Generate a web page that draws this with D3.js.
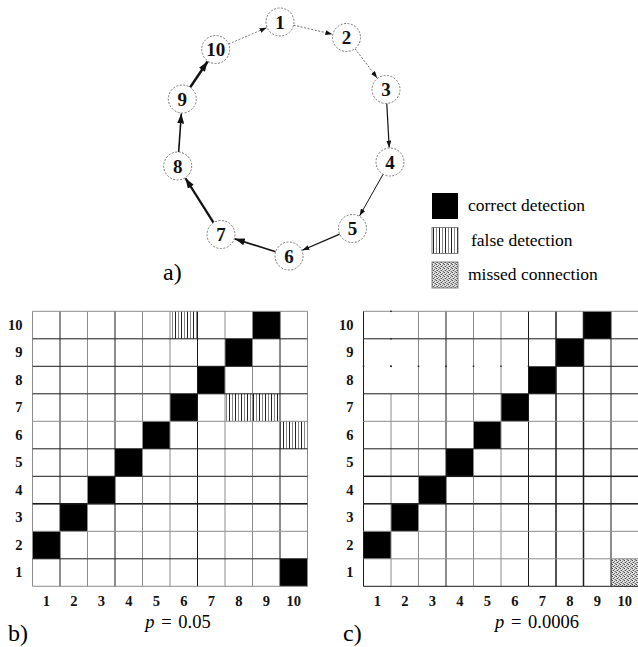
<!DOCTYPE html>
<html>
<head>
<meta charset="utf-8">
<script src="https://cdn.jsdelivr.net/npm/d3@7"></script>
<style>
  html, body { margin: 0; padding: 0; background: #fff; }
  svg { display: block; }
</style>
</head>
<body>
<svg id="chart" width="638" height="647"></svg>
<script>
// ---------- DATA ----------
const nodeIds = [1, 2, 3, 4, 5, 6, 7, 8, 9, 10];
// ring layout of the network (panel a)
const nodeLayoutX = [280, 346.5, 386, 390, 352.5, 289, 221, 177.7, 182.3, 215.7];
const nodeLayoutY = [22, 37.5, 89.5, 162, 228.5, 256, 234.5, 166, 99, 49.5];
// directed connections and their strength
const edgeFrom   = [10, 1, 2, 3, 4, 5, 6, 7, 8, 9];
const edgeTo     = [1, 2, 3, 4, 5, 6, 7, 8, 9, 10];
const edgeWeight = [0.7, 0.8, 0.8, 1.2, 1.0, 1.3, 1.6, 2.3, 1.6, 2.6];
const edgeDotted = [true, true, true, false, false, false, false, false, false, false];

const tickLabels = ["1", "2", "3", "4", "5", "6", "7", "8", "9", "10"];

// detection matrices: [column (source), row (target)]
const correctB = [[1, 2], [2, 3], [3, 4], [4, 5], [5, 6], [6, 7], [7, 8], [8, 9], [9, 10], [10, 1]];
const falseB   = [[6, 10], [8, 7], [9, 7], [10, 6]];
const missedB  = [];
const correctC = [[1, 2], [2, 3], [3, 4], [4, 5], [5, 6], [6, 7], [7, 8], [8, 9], [9, 10]];
const falseC   = [];
const missedC  = [[10, 1]];

const legendLabels = ["correct detection", "false detection", "missed connection"];

// ---------- DRAWING ----------
const FONT = "'Liberation Serif', 'Times New Roman', Times, serif";
const svg = d3.select("#chart").attr("font-family", FONT);
const defs = svg.append("defs");

// hatch pattern (false detection)
const hatch = defs.append("pattern").attr("id", "hatch")
  .attr("patternUnits", "userSpaceOnUse").attr("width", 6).attr("height", 6);
hatch.append("rect").attr("width", 6).attr("height", 6).attr("fill", "#fff");
hatch.append("rect").attr("x", 1).attr("width", 1).attr("height", 6).attr("fill", "#222");
hatch.append("rect").attr("x", 4).attr("width", 1).attr("height", 6).attr("fill", "#888");

// stipple pattern (missed connection)
const stip = defs.append("pattern").attr("id", "stipple")
  .attr("patternUnits", "userSpaceOnUse").attr("width", 4).attr("height", 4);
stip.append("rect").attr("width", 4).attr("height", 4).attr("fill", "#e4e4e4");
[[0,0,"#444"],[2,1,"#666"],[1,2,"#555"],[3,3,"#777"],[2,3,"#aaa"],[0,2,"#999"],[3,0,"#aaa"]].forEach(([px,py,c]) =>
  stip.append("rect").attr("x", px).attr("y", py).attr("width", 1).attr("height", 1).attr("fill", c));

// arrow markers
function addMarker(id, w, h) {
  defs.append("marker").attr("id", id)
    .attr("markerUnits", "userSpaceOnUse")
    .attr("viewBox", `0 0 ${w} ${h}`)
    .attr("markerWidth", w).attr("markerHeight", h)
    .attr("refX", w).attr("refY", h / 2)
    .attr("orient", "auto")
    .append("path").attr("d", `M0,0 L${w},${h/2} L0,${h} Z`).attr("fill", "#111");
}
addMarker("arrowS", 7, 5);
addMarker("arrowL", 10, 7);

// ----- panel a: network -----
const R = 14;
const nodePos = new Map(nodeIds.map((id, i) => [id, [nodeLayoutX[i], nodeLayoutY[i]]]));
const widthScale = d3.scaleLinear().domain([0.7, 2.6]).range([0.7, 2.6]);
const gNet = svg.append("g");

edgeFrom.forEach((s, i) => {
  const [x1, y1] = nodePos.get(s), [x2, y2] = nodePos.get(edgeTo[i]);
  const dx = x2 - x1, dy = y2 - y1, L = Math.hypot(dx, dy);
  const ux = dx / L, uy = dy / L;
  gNet.append("line")
    .attr("x1", x1 + ux * R).attr("y1", y1 + uy * R)
    .attr("x2", x2 - ux * (R + 0.5)).attr("y2", y2 - uy * (R + 0.5))
    .attr("stroke", edgeDotted[i] ? "#444" : "#111")
    .attr("stroke-width", widthScale(edgeWeight[i]))
    .attr("stroke-dasharray", edgeDotted[i] ? "2,1.6" : null)
    .attr("marker-end", edgeWeight[i] >= 1.5 ? "url(#arrowL)" : "url(#arrowS)");
});

const nodeG = gNet.selectAll("g.node").data(nodeIds).join("g")
  .attr("class", "node")
  .attr("transform", d => `translate(${nodePos.get(d)[0]},${nodePos.get(d)[1]})`);
nodeG.append("circle").attr("r", R).attr("fill", "#fff")
  .attr("stroke", "#555").attr("stroke-width", 0.8).attr("stroke-dasharray", "2,1.5");
nodeG.append("text").text(d => d)
  .attr("text-anchor", "middle").attr("dy", "0.35em")
  .attr("font-family", FONT)
  .attr("font-size", 19).attr("font-weight", "bold").attr("fill", "#111");

svg.append("text").attr("x", 163).attr("y", 280).attr("font-family", FONT)
  .attr("font-size", 24).text("a)");

// ----- legend -----
const legendFills = ["#000", "url(#hatch)", "url(#stipple)"];
const legendY = d3.scalePoint().domain(legendLabels).range([193, 262]);
const lg = svg.append("g");
legendLabels.forEach((lab, i) => {
  lg.append("rect").attr("x", 432).attr("y", legendY(lab)).attr("width", 26).attr("height", 26)
    .attr("fill", legendFills[i]).attr("stroke", i === 0 ? "none" : "#666").attr("stroke-width", 0.8);
  lg.append("text").attr("x", i === 1 ? 471 : 468).attr("y", legendY(lab) + 18)
    .attr("font-family", FONT).attr("font-size", 17.5).text(lab);
});

// ----- matrices -----
const GRAY = "#8c8c8c", BLACK = "#1a1a1a";
function drawMatrix(x0, correct, falses, missed, vStyles, hStyles, skipV, skipH, pText, panelLabel, panelX, pX) {
  const top = 311.3, bottom = 586.3, size = 275;
  const x = d3.scaleBand().domain(tickLabels).range([x0, x0 + size]);
  const y = d3.scaleBand().domain(tickLabels).range([bottom, top]);
  const g = svg.append("g");
  const bw = x.bandwidth(), bh = y.bandwidth();

  const cells = [
    ...correct.map(d => ({ c: d[0], r: d[1], f: "#000" })),
    ...falses.map(d => ({ c: d[0], r: d[1], f: "url(#hatch)" })),
    ...missed.map(d => ({ c: d[0], r: d[1], f: "url(#stipple)" }))
  ];
  g.selectAll("rect.cell").data(cells).join("rect").attr("class", "cell")
    .attr("x", d => x(String(d.c))).attr("y", d => y(String(d.r)))
    .attr("width", bw).attr("height", bh).attr("fill", d => d.f);

  const rowsTopDown = tickLabels.slice().reverse();
  for (let i = 0; i <= 10; i++) {
    const xx = x0 + i * bw;
    const st = vStyles[i];
    rowsTopDown.forEach(r => {
      if (skipV.some(s => s[0] === i && s[1] === +r)) return;
      g.append("line").attr("x1", xx).attr("x2", xx)
        .attr("y1", y(r)).attr("y2", y(r) + bh)
        .attr("stroke", st[0]).attr("stroke-width", st[1]);
    });
  }
  for (let j = 0; j <= 10; j++) {
    const yy = top + j * bh;
    const st = hStyles[j];
    tickLabels.forEach(c => {
      if (skipH.some(s => s[0] === j && s[1] === +c)) return;
      g.append("line").attr("y1", yy).attr("y2", yy)
        .attr("x1", x(c)).attr("x2", x(c) + bw)
        .attr("stroke", st[0]).attr("stroke-width", st[1]);
    });
  }
  const dots = [];
  skipV.forEach(s => { dots.push([x0 + s[0] * bw, y(String(s[1]))]); });
  skipH.forEach(s => { dots.push([x(String(s[1])), top + s[0] * bh]); });
  g.selectAll("rect.dot").data(dots).join("rect").attr("class", "dot")
    .attr("x", d => d[0] - 0.75).attr("y", d => d[1] - 0.75)
    .attr("width", 1.5).attr("height", 1.5).attr("fill", "#222");

  const ax = g.append("g").attr("transform", `translate(0,${bottom})`)
    .call(d3.axisBottom(x).tickSize(0).tickPadding(9));
  const ay = g.append("g").attr("transform", `translate(${x0},0)`)
    .call(d3.axisLeft(y).tickSize(0).tickPadding(10));
  [ax, ay].forEach(a => {
    a.attr("font-family", FONT);
    a.select(".domain").remove();
    a.selectAll("text").attr("font-family", FONT)
      .attr("font-size", 14.5).attr("font-weight", "bold").attr("fill", "#111");
  });

  svg.append("text").attr("x", panelX).attr("y", 641).attr("font-family", FONT)
    .attr("font-size", 24).text(panelLabel);
  const pt = svg.append("text").attr("x", pX).attr("y", 628).attr("font-family", FONT)
    .attr("font-size", 18.5).attr("text-anchor", "middle").attr("word-spacing", 2);
  pt.append("tspan").attr("font-style", "italic").text("p");
  pt.append("tspan").text(pText);
}

const vB = [[GRAY,1],[BLACK,1],[GRAY,1],[BLACK,1],[GRAY,1],[GRAY,1],[BLACK,1],[GRAY,1],[GRAY,1],[BLACK,1],[GRAY,1]];
const hB = [[GRAY,1],[BLACK,1],[BLACK,1],[BLACK,1],[GRAY,1],[BLACK,1],[BLACK,1],[BLACK,1.6],[GRAY,1],[BLACK,1],[GRAY,1]];
drawMatrix(32.5, correctB, falseB, missedB, vB, hB, [], [], " = 0.05", "b)", 8, 178);

const vC = [[BLACK,1],[GRAY,1],[GRAY,1],[BLACK,1],[GRAY,1],[GRAY,1],[BLACK,1],[BLACK,1.5],[BLACK,1.5],[BLACK,1],[BLACK,1]];
const hC = [[GRAY,1],[BLACK,1],[BLACK,1],[BLACK,1],[GRAY,1],[BLACK,1],[BLACK,1.5],[BLACK,1.5],[GRAY,1],[GRAY,1],[BLACK,1]];
const skipVC = [[1, 10], [1, 9], [1, 8]];
const skipHC = [[2, 1], [2, 2], [2, 3], [2, 4], [2, 5], [2, 6], [2, 7]];
drawMatrix(363.5, correctC, falseC, missedC, vC, hC, skipVC, skipHC, " = 0.0006", "c)", 343, 537);
</script>
</body>
</html>
